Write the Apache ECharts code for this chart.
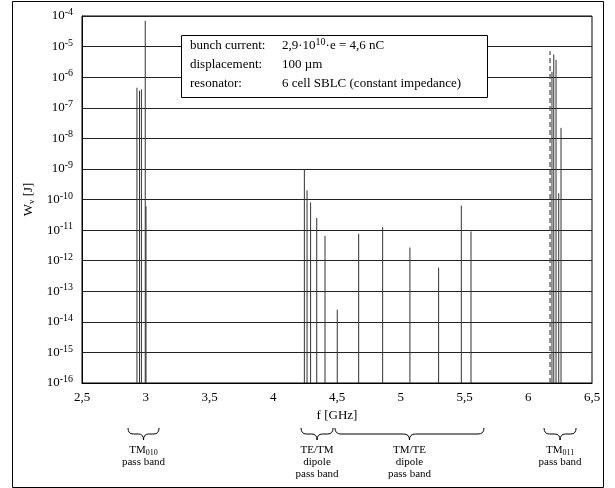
<!DOCTYPE html>
<html>
<head>
<meta charset="utf-8">
<script src="https://cdn.jsdelivr.net/npm/echarts@6/dist/echarts.min.js"></script>
<style>
  html, body { margin: 0; padding: 0; background: #fff; }
  #chart { width: 615px; height: 488px; }
</style>
</head>
<body>
<div id="chart"></div>
<script>
// resonance frequencies [GHz] and stored energies [J]
const tm010Freq = [2.931, 2.951, 2.966, 2.996, 3.002];
const tm010Energy = [4.5e-7, 3.6e-7, 4.0e-7, 7e-5, 6e-11];

const dipoleFreq = [4.244, 4.265, 4.293, 4.341, 4.406, 4.502, 4.670, 4.858, 5.072, 5.297, 5.475, 5.551];
const dipoleEnergy = [9.5e-10, 2e-10, 8e-11, 2.5e-11, 6.5e-12, 2.5e-14, 7.5e-12, 1.25e-11, 2.7e-12, 5.9e-13, 6.3e-11, 9e-12];

const tm011Freq = [6.186, 6.200, 6.218, 6.239, 6.257];
const tm011Energy = [1.5e-6, 5.5e-6, 3.7e-6, 1.6e-10, 2.2e-8];

const dashedFreq = [6.171];
const dashedEnergy = [7e-6];

const xTicks = [2.5, 3, 3.5, 4, 4.5, 5, 5.5, 6, 6.5];
const yMin = 1e-16, yMax = 1e-4;

// pass band brackets below the axis (GHz range + label lines)
const bandFrom = [2.861, 4.218, 4.484, 6.124];
const bandTo = [3.104, 4.469, 5.653, 6.375];
const bandLabels = [
  ['TM{sub|010}', 'pass band'],
  ['TE/TM', 'dipole', 'pass band'],
  ['TM/TE', 'dipole', 'pass band'],
  ['TM{sub|011}', 'pass band']
];

const font = 'Liberation Serif';
const chart = echarts.init(document.getElementById('chart'));

function pairs(xs, ys) {
  return xs.map((x, i) => [x, ys[i]]);
}

function stem(dashed) {
  return function (params, api) {
    const top = api.coord([api.value(0), api.value(1)]);
    const base = api.coord([api.value(0), yMin]);
    return {
      type: 'line',
      shape: { x1: top[0], y1: base[1], x2: top[0], y2: top[1] },
      style: {
        stroke: dashed ? '#555' : '#333',
        lineWidth: dashed ? 1.3 : 1,
        lineDash: dashed ? [5, 3] : null
      }
    };
  };
}

const solidData = pairs(tm010Freq, tm010Energy)
  .concat(pairs(dipoleFreq, dipoleEnergy))
  .concat(pairs(tm011Freq, tm011Energy));

chart.setOption({
  animation: false,
  textStyle: { fontFamily: font },
  grid: {
    left: 82, right: 23, top: 16, bottom: 105,
    show: true, borderColor: '#000', borderWidth: 1
  },
  xAxis: {
    type: 'value',
    min: xTicks[0], max: xTicks[xTicks.length - 1], interval: 0.5,
    name: 'f [GHz]',
    nameLocation: 'middle',
    nameGap: 24,
    nameTextStyle: { fontFamily: font, fontSize: 13, color: '#000' },
    axisLine: { lineStyle: { color: '#000' } },
    axisTick: { show: false },
    splitLine: { show: false },
    axisLabel: {
      fontFamily: font, fontSize: 13, color: '#000', margin: 8,
      formatter: v => String(v).replace('.', ',')
    }
  },
  yAxis: {
    type: 'log',
    logBase: 10,
    min: yMin, max: yMax,
    interval: 1,
    name: 'W{sub|v} [J]',
    nameLocation: 'middle',
    nameGap: 45,
    nameRotate: 90,
    nameTextStyle: {
      fontFamily: font, fontSize: 13, color: '#000',
      rich: { sub: { fontFamily: font, fontSize: 9, verticalAlign: 'bottom', padding: [6, 0, 0, 0] } }
    },
    axisLine: { show: true, lineStyle: { color: '#000' } },
    axisTick: { show: false },
    splitLine: { show: true, lineStyle: { color: '#222', width: 1 } },
    axisLabel: {
      margin: 9,
      color: '#000',
      formatter: v => '10{sup|' + Math.round(Math.log10(v)) + '}',
      rich: {
        sup: { fontFamily: font, fontSize: 10, color: '#000', verticalAlign: 'top', padding: [0, 0, 7, 0] }
      },
      fontFamily: font, fontSize: 13
    }
  },
  series: [
    {
      type: 'custom',
      renderItem: stem(false),
      data: solidData,
      z: 3
    },
    {
      type: 'custom',
      renderItem: stem(true),
      data: pairs(dashedFreq, dashedEnergy),
      z: 3
    }
  ]
});

// curly brace built from quadratic curves and straight segments
function brace(x0, x1, y, h) {
  const xm = (x0 + x1) / 2;
  const r = Math.min(6, (x1 - x0) / 6);
  const ym = y + h / 2;
  const st = { stroke: '#000', lineWidth: 1, fill: null };
  const curve = (a, b, c) => ({
    type: 'bezierCurve', silent: true,
    shape: { x1: a[0], y1: a[1], cpx1: b[0], cpy1: b[1], x2: c[0], y2: c[1] },
    style: st
  });
  const seg = (a, b) => ({
    type: 'line', silent: true,
    shape: { x1: a[0], y1: a[1], x2: b[0], y2: b[1] },
    style: st
  });
  return [
    curve([x0, y], [x0, ym], [x0 + r, ym]),
    seg([x0 + r, ym], [xm - r, ym]),
    curve([xm - r, ym], [xm, ym], [xm, y + h]),
    curve([xm, y + h], [xm, ym], [xm + r, ym]),
    seg([xm + r, ym], [x1 - r, ym]),
    curve([x1 - r, ym], [x1, ym], [x1, y])
  ];
}

const graphics = [
  {
    type: 'rect', z: -1, silent: true,
    shape: { x: 12.5, y: 1.5, width: 591, height: 486 },
    style: { fill: null, stroke: '#000', lineWidth: 1 }
  },
  {
    type: 'rect', z: 10, silent: true,
    shape: { x: 181.5, y: 35.5, width: 306, height: 62 },
    style: { fill: '#fff', stroke: '#000', lineWidth: 1 }
  }
];

const infoKeys = ['bunch current:', 'displacement:', 'resonator:'];
const infoVals = ['2,9·10{sup|10}·e = 4,6 nC', '100 µm', '6 cell SBLC (constant impedance)'];
infoKeys.forEach((k, i) => {
  const y = 46 + i * 19;
  graphics.push({
    type: 'text', z: 11, silent: true, x: 190, y: y,
    style: { text: k, fontFamily: font, fontSize: 13, fill: '#000', verticalAlign: 'middle' }
  });
  graphics.push({
    type: 'text', z: 11, silent: true, x: 282, y: y,
    style: {
      text: infoVals[i], fontFamily: font, fontSize: 13, fill: '#000', verticalAlign: 'middle',
      rich: { sup: { fontFamily: font, fontSize: 10, verticalAlign: 'top', padding: [0, 0, 7, 0] } }
    }
  });
});

bandFrom.forEach((f, i) => {
  const p0 = chart.convertToPixel({ gridIndex: 0 }, [f, yMin]);
  const p1 = chart.convertToPixel({ gridIndex: 0 }, [bandTo[i], yMin]);
  brace(p0[0], p1[0], 428, 12).forEach(g => graphics.push(g));
  const xm = (p0[0] + p1[0]) / 2;
  bandLabels[i].forEach((t, j) => {
    graphics.push({
      type: 'text', silent: true, x: xm, y: 450 + j * 12,
      style: {
        text: t, fontFamily: font, fontSize: 11, fill: '#000',
        align: 'center', verticalAlign: 'middle',
        rich: { sub: { fontFamily: font, fontSize: 8, verticalAlign: 'bottom', padding: [5, 0, 0, 0] } }
      }
    });
  });
});

chart.setOption({ graphic: graphics });
</script>
</body>
</html>
